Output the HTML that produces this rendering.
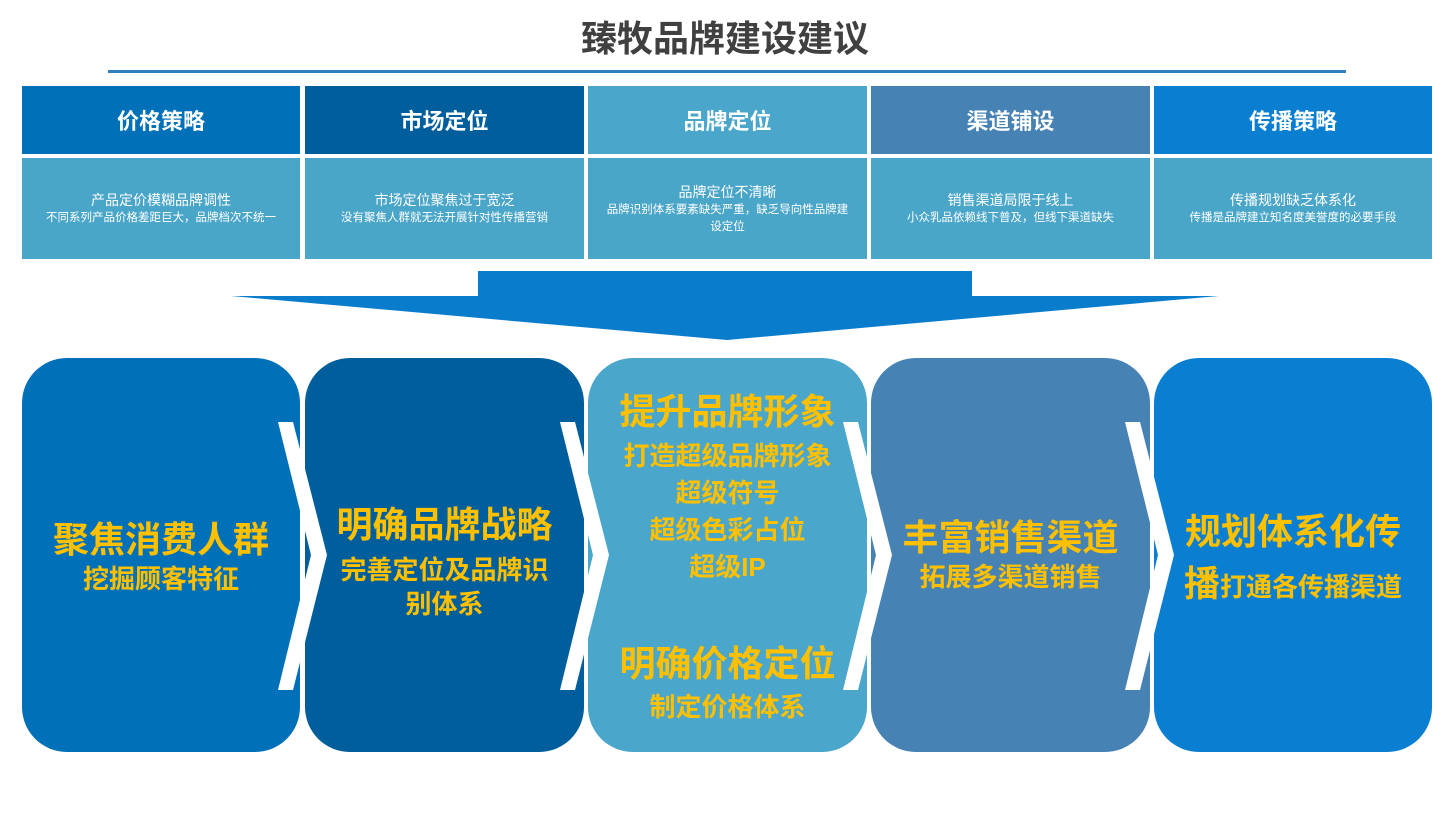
<!DOCTYPE html>
<html><head><meta charset="utf-8"><style>
*{margin:0;padding:0;box-sizing:border-box}
body{width:1450px;height:814px;background:#fff;position:relative;overflow:hidden;font-family:"Liberation Sans","Noto Sans CJK SC",sans-serif}
.a{position:absolute}
.h{position:absolute;top:86px;height:68px;color:#fff;font-weight:bold;font-size:22px;display:flex;align-items:center;justify-content:center}
.d{position:absolute;top:158px;height:101px;background:#4aa6c9;color:#fff;display:flex;flex-direction:column;align-items:center;justify-content:center;text-align:center;padding:0 14px}
.d .t{font-size:14px;line-height:20px}
.d .s{font-size:11.5px;line-height:17px}
.b{position:absolute;top:358px;height:394px;border-radius:45px;color:#ffc000;font-weight:bold;text-align:center;white-space:nowrap}
.L{font-size:36px;line-height:42px}
.S{font-size:26px;line-height:36px}
</style></head><body>
<div class="a" style="left:0;top:14px;width:1450px;text-align:center;font-size:36px;font-weight:bold;color:#404040;line-height:50px">臻牧品牌建设建议</div>
<div class="a" style="left:108px;top:70px;width:1238px;height:3px;background:#2f7fc1"></div>

<div class="h" style="left:22px;width:278px;background:#0070b8">价格策略</div>
<div class="h" style="left:305px;width:279px;background:#005e9c">市场定位</div>
<div class="h" style="left:588px;width:279px;background:#4aa6ca">品牌定位</div>
<div class="h" style="left:871px;width:279px;background:#4682b4">渠道铺设</div>
<div class="h" style="left:1154px;width:278px;background:#0a7ed0">传播策略</div>

<div class="d" style="left:22px;width:278px"><div class="t">产品定价模糊品牌调性</div><div class="s">不同系列产品价格差距巨大，品牌档次不统一</div></div>
<div class="d" style="left:305px;width:279px"><div class="t">市场定位聚焦过于宽泛</div><div class="s">没有聚焦人群就无法开展针对性传播营销</div></div>
<div class="d" style="left:588px;width:279px"><div class="t">品牌定位不清晰</div><div class="s">品牌识别体系要素缺失严重，缺乏导向性品牌建设定位</div></div>
<div class="d" style="left:871px;width:279px"><div class="t">销售渠道局限于线上</div><div class="s">小众乳品依赖线下普及，但线下渠道缺失</div></div>
<div class="d" style="left:1154px;width:278px"><div class="t">传播规划缺乏体系化</div><div class="s">传播是品牌建立知名度美誉度的必要手段</div></div>

<svg class="a" style="left:0;top:0" width="1450" height="814">
<polygon points="478,271 972,271 972,296 1219,296 727,340 231,296 478,296" fill="#0a7ccc"/>
</svg>

<div class="b" style="left:22px;width:278px;background:#0070b8;padding-top:161px"><div class="L">聚焦消费人群</div><div class="S">挖掘顾客特征</div></div>
<div class="b" style="left:305px;width:279px;background:#005e9c;padding-top:146px"><div class="L">明确品牌战略</div><div class="S" style="line-height:34px;margin-top:7px">完善定位及品牌识<br>别体系</div></div>
<div class="b" style="left:588px;width:279px;background:#4aa6ca;padding-top:33px"><div class="L">提升品牌形象</div><div class="S" style="line-height:37px;margin-top:5px">打造超级品牌形象<br>超级符号<br>超级色彩占位<br>超级IP</div><div class="L" style="margin-top:57px">明确价格定位</div><div class="S" style="margin-top:4px">制定价格体系</div></div>
<div class="b" style="left:871px;width:279px;background:#4682b4;padding-top:159px"><div class="L">丰富销售渠道</div><div class="S">拓展多渠道销售</div></div>
<div class="b" style="left:1154px;width:278px;background:#0a7ed0;padding-top:153px"><div class="L">规划体系化传</div><div class="L" style="margin-top:10px">播<span style="font-size:26px">打通各传播渠道</span></div></div>

<svg class="a" style="left:0;top:0" width="1450" height="814">
<g fill="#fff">
<polygon points="278,422 293,422 327,555 293,690 278,690 311,555"/>
<polygon points="560,422 575,422 609,555 575,690 560,690 593,555"/>
<polygon points="843,422 858,422 892,555 858,690 843,690 876,555"/>
<polygon points="1125,422 1140,422 1174,555 1140,690 1125,690 1158,555"/>
</g>
</svg>
</body></html>
